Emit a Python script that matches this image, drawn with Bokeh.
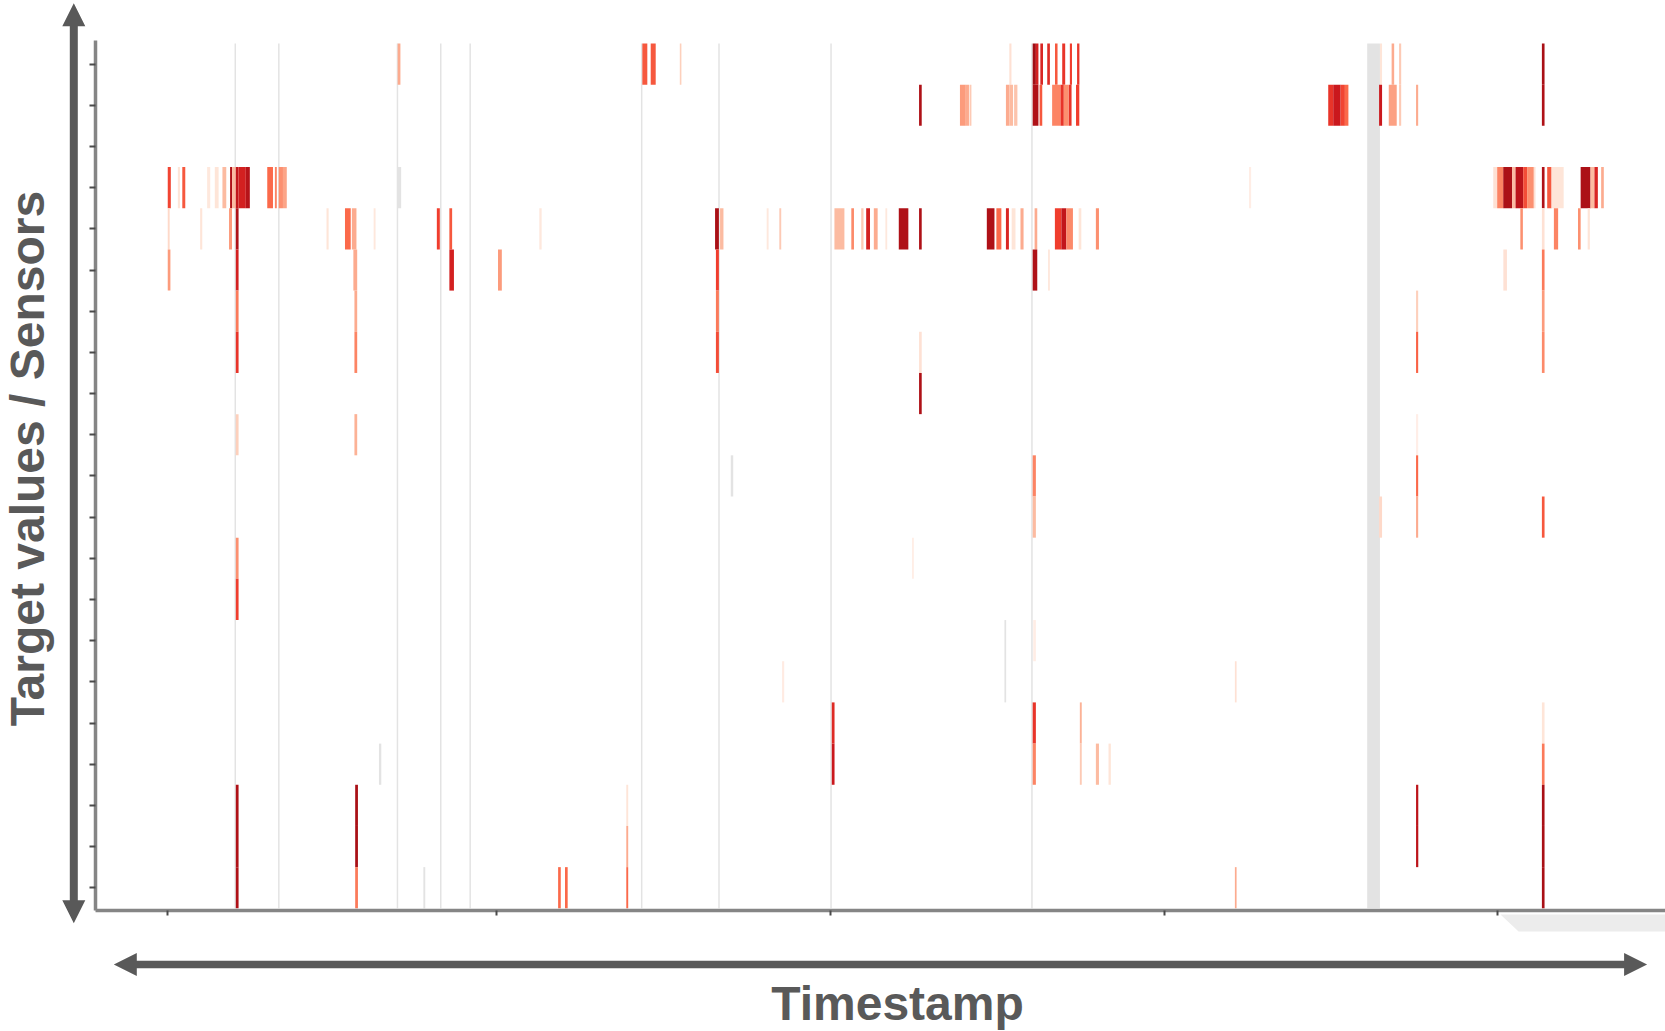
import math
from bokeh.plotting import figure
from bokeh.models import (Range1d, FixedTicker, ColumnDataSource, LinearColorMapper,
                          Label, PolyAnnotation, LinearAxis)
from bokeh.palettes import Reds256
from bokeh.embed import file_html
from bokeh.resources import INLINE

# ---------------- data (time positions in timestamp units, one list per sensor row, top row first)
cell_start = [
    [374.0, 604.4, 612.3, 639.7, 950.0, 972.0, 975.0, 979.2, 985.7, 993.0, 999.8, 1007.0, 1013.8, 1299.0, 1310.0, 1317.0, 1451.5],
    [865.0, 903.5, 909.0, 912.5, 946.8, 950.0, 954.5, 972.0, 978.5, 990.3, 998.2, 1001.3, 1006.0, 1012.8, 1250.3, 1255.0, 1262.0, 1266.0, 1298.2, 1307.3, 1317.0, 1333.0, 1451.5],
    [],
    [157.5, 167.0, 171.2, 194.6, 201.8, 209.0, 216.2, 218.2, 221.6, 224.0, 231.0, 251.2, 258.4, 262.0, 266.0, 1175.7, 1405.7, 1409.4, 1415.1, 1423.5, 1426.7, 1433.9, 1437.6, 1443.9, 1451.5, 1456.5, 1460.6, 1488.0, 1497.3, 1501.0, 1507.3],
    [157.5, 188.0, 215.2, 221.6, 307.0, 324.4, 330.9, 351.4, 410.9, 422.7, 507.4, 672.9, 677.6, 721.5, 733.4, 785.3, 801.2, 810.5, 815.2, 822.4, 833.3, 845.9, 865.0, 928.8, 937.8, 946.8, 952.2, 960.5, 973.8, 992.9, 999.0, 1003.7, 1015.3, 1031.5, 1431.2, 1451.5, 1462.8, 1485.5, 1494.6],
    [157.5, 221.6, 332.3, 422.7, 468.5, 673.7, 972.0, 986.4, 1415.2, 1451.5],
    [221.6, 333.3, 673.7, 1333.0, 1451.5],
    [221.6, 333.3, 673.7, 865.0, 1333.0, 1451.5],
    [865.0],
    [221.6, 333.3, 1333.0],
    [972.0, 1333.0],
    [972.0, 1298.2, 1333.0, 1451.5],
    [221.6, 858.5],
    [221.6],
    [972.5],
    [736.0, 1162.4],
    [782.8, 972.0, 1016.4, 1451.5],
    [782.8, 972.0, 1016.4, 1031.5, 1043.4, 1451.5],
    [221.6, 334.0, 589.3, 1333.0, 1451.5],
    [221.6, 334.0, 589.3, 1333.0, 1451.5],
    [221.6, 334.0, 525.1, 531.6, 589.3, 1162.4, 1451.5],
]
cell_end = [
    [376.6, 609.1, 617.0, 641.2, 952.0, 975.0, 977.4, 981.7, 988.2, 995.4, 1002.6, 1009.0, 1016.0, 1301.0, 1312.4, 1319.0, 1454.0],
    [867.5, 909.0, 912.0, 914.3, 950.0, 953.5, 957.6, 977.4, 981.0, 998.2, 1001.3, 1005.9, 1008.6, 1015.9, 1255.0, 1262.0, 1266.0, 1269.3, 1301.0, 1314.8, 1319.0, 1335.0, 1454.0],
    [],
    [160.4, 169.0, 174.0, 197.5, 205.4, 212.6, 218.2, 221.6, 224.0, 231.0, 234.8, 256.6, 260.2, 266.0, 269.6, 1177.7, 1409.4, 1415.1, 1423.5, 1426.7, 1433.9, 1437.6, 1443.9, 1445.5, 1454.0, 1460.6, 1472.0, 1497.3, 1501.0, 1504.2, 1509.8],
    [159.3, 190.0, 218.0, 224.2, 309.0, 329.8, 335.2, 353.2, 413.7, 425.3, 509.6, 676.5, 680.8, 723.3, 735.2, 794.7, 803.7, 812.7, 818.8, 826.0, 835.0, 854.9, 867.5, 936.0, 942.5, 949.6, 955.8, 963.4, 976.3, 999.0, 1003.7, 1009.9, 1017.8, 1034.4, 1433.6, 1454.0, 1466.8, 1488.0, 1496.7],
    [160.0, 224.2, 335.9, 427.0, 472.1, 676.5, 976.3, 988.2, 1418.6, 1454.0],
    [224.2, 335.9, 676.5, 1335.0, 1454.0],
    [224.2, 335.9, 676.5, 867.5, 1335.0, 1454.0],
    [867.5],
    [224.2, 335.9, 1335.0],
    [975.0, 1335.0],
    [975.0, 1301.0, 1335.0, 1454.0],
    [224.2, 860.0],
    [224.2],
    [975.0],
    [738.0, 1164.0],
    [785.4, 975.0, 1018.2, 1454.0],
    [785.4, 975.0, 1018.2, 1034.4, 1045.6, 1454.0],
    [224.2, 336.6, 591.1, 1335.1, 1454.0],
    [224.2, 336.6, 591.1, 1335.1, 1454.0],
    [224.2, 336.6, 527.6, 534.1, 591.1, 1164.0, 1454.0],
]
cell_value = [
    [0.30, 0.55, 0.55, 0.18, 0.12, 0.88, 0.72, 0.70, 0.68, 0.55, 0.65, 0.62, 0.65, 0.10, 0.30, 0.20, 0.86],
    [0.84, 0.35, 0.30, 0.20, 0.30, 0.25, 0.22, 0.84, 0.55, 0.42, 0.65, 0.38, 0.65, 0.62, 0.65, 0.75, 0.60, 0.50, 0.75, 0.33, 0.20, 0.30, 0.84],
    [],
    [0.60, 0.10, 0.55, 0.08, 0.10, 0.25, 0.84, 0.25, 0.78, 0.72, 0.82, 0.50, 0.42, 0.38, 0.32, 0.05, 0.12, 0.42, 0.85, 0.25, 0.80, 0.58, 0.38, 0.12, 0.84, 0.55, 0.10, 0.85, 0.25, 0.70, 0.30],
    [0.15, 0.10, 0.35, 0.84, 0.10, 0.50, 0.30, 0.08, 0.62, 0.55, 0.08, 0.86, 0.25, 0.08, 0.20, 0.25, 0.40, 0.20, 0.72, 0.30, 0.08, 0.84, 0.84, 0.84, 0.50, 0.70, 0.10, 0.30, 0.30, 0.62, 0.78, 0.40, 0.10, 0.38, 0.38, 0.12, 0.42, 0.38, 0.10],
    [0.35, 0.72, 0.30, 0.72, 0.35, 0.62, 0.84, 0.08, 0.12, 0.45],
    [0.45, 0.30, 0.45, 0.18, 0.35],
    [0.65, 0.42, 0.58, 0.12, 0.52, 0.40],
    [0.84],
    [0.18, 0.28, 0.04],
    [0.42, 0.50],
    [0.25, 0.15, 0.30, 0.55],
    [0.38, 0.06],
    [0.62],
    [0.05],
    [0.06, 0.12],
    [0.68, 0.65, 0.28, 0.10],
    [0.75, 0.42, 0.20, 0.25, 0.10, 0.45],
    [0.84, 0.86, 0.10, 0.80, 0.86],
    [0.84, 0.86, 0.30, 0.80, 0.86],
    [0.84, 0.45, 0.50, 0.50, 0.50, 0.30, 0.86],
]

# missing-data spans (grey)
gap_start = [220.4, 261.4, 373.1, 413.9, 441.6, 603.1, 675.9, 781.4, 970.6, 1287.0, 373.7, 687.7, 945.4, 356.4, 398.2]
gap_end = [221.8, 262.8, 374.5, 415.3, 443.0, 604.5, 677.3, 782.8, 972.0, 1299.0, 377.3, 690.0, 947.0, 358.6, 400.0]
gap_first_row = [0, 0, 0, 0, 0, 0, 0, 0, 0, 0, 3, 10, 14, 17, 20]
gap_last_row = [20, 20, 20, 20, 20, 20, 20, 20, 20, 20, 3, 10, 15, 17, 20]

time_ticks = [157, 467, 782, 1096, 1410]
time_min, time_max = 89.75, 1567.9
n_rows = len(cell_start)

# ---------------- build tables
left, right, top, bottom, val = [], [], [], [], []
for k in range(n_rows):
    yc = n_rows - 1 - k
    for s, e, v in zip(cell_start[k], cell_end[k], cell_value[k]):
        left.append(s); right.append(e); val.append(v)
        top.append(yc + 0.5); bottom.append(yc - 0.5)
cells = ColumnDataSource(dict(left=left, right=right, top=top, bottom=bottom, val=val))
gaps = ColumnDataSource(dict(
    left=gap_start, right=gap_end,
    top=[n_rows - 1 - r + 0.5 for r in gap_first_row],
    bottom=[n_rows - 1 - r - 0.5 for r in gap_last_row]))

def lum(h):
    return int(h[1:3], 16) + int(h[3:5], 16) + int(h[5:7], 16)
pal = list(Reds256)
if lum(pal[0]) < lum(pal[-1]):
    pal = pal[::-1]
mapper = LinearColorMapper(palette=pal, low=0.0, high=1.0)

W, H = 1665, 1031
GREY = "#595959"
# frame fills the canvas; axes are placed at fixed locations inside it
FL, FT, FB = 95.3, 40.0, 910.0          # canvas pixels of the axes
y_lo, y_hi = -0.553, n_rows - 0.427     # row range covered by the axes
ppr = (FB - FT) / (y_hi - y_lo)
ppx = (W - FL) / (time_max - time_min)
x_range = Range1d(time_min - FL / ppx, time_max)
y_range = Range1d(y_lo - (H - FB) / ppr, y_hi + FT / ppr)

p = figure(width=W, height=H, output_backend="svg", toolbar_location=None,
           x_range=x_range, y_range=y_range, x_axis_type=None, y_axis_type=None,
           min_border=0)
p.grid.visible = False
p.outline_line_color = None
p.background_fill_color = "white"

p.quad(left="left", right="right", top="top", bottom="bottom", source=gaps,
       fill_color="#e3e3e3", line_color=None)
p.quad(left="left", right="right", top="top", bottom="bottom", source=cells,
       fill_color={"field": "val", "transform": mapper}, line_color=None)

xaxis = LinearAxis(ticker=FixedTicker(ticks=time_ticks), fixed_location=y_lo,
                   bounds=(time_min, time_max))
yaxis = LinearAxis(ticker=FixedTicker(ticks=list(range(n_rows))), fixed_location=time_min,
                   bounds=(y_lo, y_hi))
for ax, tick_len in ((xaxis, 5), (yaxis, 6)):
    ax.major_label_text_color = None
    ax.major_tick_in = 0
    ax.major_tick_out = tick_len
    ax.minor_tick_out = 0
    ax.minor_tick_in = 0
    ax.axis_line_color = "#858585"
    ax.axis_line_width = 3.5
    ax.major_tick_line_color = "#4a4a4a"
    ax.major_tick_line_width = 2
p.add_layout(xaxis, "below")
p.add_layout(yaxis, "left")

# ---------------- decorations (canvas pixels)
p.add_layout(Label(x=897, y=1003, x_units="canvas", y_units="canvas", text="Timestamp",
                   text_font="Liberation Sans", text_font_style="bold", text_font_size="48px",
                   text_color=GREY, text_align="center", text_baseline="alphabetic"))
p.add_layout(Label(x=27, y=458, x_units="canvas", y_units="canvas", angle=math.pi / 2,
                   text="Target values / Sensors",
                   text_font="Liberation Sans", text_font_style="bold", text_font_size="48px",
                   text_color=GREY, text_align="center", text_baseline="alphabetic"))

def double_arrow(x0, y0, x1, y1, half_w, head_len, head_half):
    dx, dy = x1 - x0, y1 - y0
    L = math.hypot(dx, dy)
    ux, uy = dx / L, dy / L
    nx, ny = -uy, ux
    def pt(t, s):
        return (x0 + ux * t + nx * s, y0 + uy * t + ny * s)
    pts = [pt(0, 0), pt(head_len, head_half), pt(head_len, half_w), pt(L - head_len, half_w),
           pt(L - head_len, head_half), pt(L, 0), pt(L - head_len, -head_half),
           pt(L - head_len, -half_w), pt(head_len, -half_w), pt(head_len, -head_half)]
    return PolyAnnotation(xs=[q[0] for q in pts], ys=[q[1] for q in pts],
                          xs_units="canvas", ys_units="canvas",
                          fill_color=GREY, fill_alpha=1.0, line_color=None)

p.add_layout(double_arrow(73.3, 2.7, 73.3, 922.7, 4.0, 23, 11.5))
p.add_layout(double_arrow(113.3, 964, 1646.6, 964, 3.75, 23, 11.5))
p.add_layout(PolyAnnotation(xs=[1500, 1665, 1665, 1518], ys=[914, 914, 931, 931],
                            xs_units="canvas", ys_units="canvas",
                            fill_color="#ececec", fill_alpha=1.0, line_color=None))

open("out.html", "w").write(file_html(p, INLINE))
